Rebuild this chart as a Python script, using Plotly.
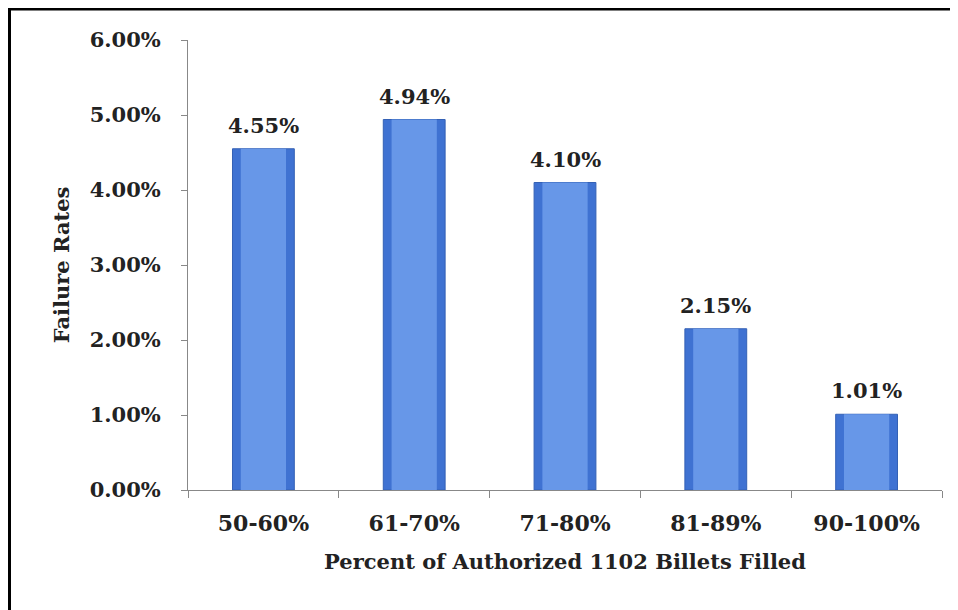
import plotly.graph_objects as go

categories = ["50-60%", "61-70%", "71-80%", "81-89%", "90-100%"]
failure_rates = [0.0455, 0.0494, 0.0410, 0.0215, 0.0101]
y_ticks = [0, 0.01, 0.02, 0.03, 0.04, 0.05, 0.06]

# page body has an 8px margin, so the figure is offset by 8px
OFF = 8
W, H = 958 - OFF, 610 - OFF
L, R, T, B = 188 - OFF, 16, 40 - OFF, 120
PW, PH = W - L - R, H - T - B

FONT = "DejaVu Serif"
TXT = "#222222"

fig = go.Figure()
# outer (darker edge) bar
fig.add_trace(go.Bar(
    x=categories, y=failure_rates, width=0.41,
    marker=dict(color="#3f72d2", line=dict(color="#3461b5", width=1)),
    hoverinfo="skip", showlegend=False,
))
# inner highlight bar (cylinder look)
fig.add_trace(go.Bar(
    x=categories, y=failure_rates, width=0.30,
    marker=dict(color="#6797e8", line=dict(width=0)),
    showlegend=False,
))

for c, v in zip(categories, failure_rates):
    fig.add_annotation(
        x=c, y=v, text=f"{v*100:.2f}%", showarrow=False,
        yanchor="bottom", yshift=9,
        font=dict(family=FONT, size=21, color=TXT, weight="bold"),
    )

def px_x(p):
    return (p - OFF - L) / PW

def px_y(p):
    return (H - B - (p - OFF)) / PH

# image frame: top and left edges
fig.add_shape(type="line", xref="paper", yref="paper",
              x0=px_x(8), x1=px_x(970), y0=px_y(9), y1=px_y(9),
              line=dict(color="black", width=3))
fig.add_shape(type="line", xref="paper", yref="paper",
              x0=px_x(9.5), x1=px_x(9.5), y0=px_y(8), y1=px_y(620),
              line=dict(color="black", width=3))

fig.update_layout(
    width=W, height=H,
    margin=dict(l=L, r=R, t=T, b=B),
    paper_bgcolor="white", plot_bgcolor="white",
    barmode="overlay",
    font=dict(family=FONT, color=TXT, weight="bold"),
    xaxis=dict(
        type="category", tickson="boundaries",
        ticks="outside", ticklen=7, tickcolor="#888888", tickwidth=1,
        ticklabelstandoff=14,
        showline=True, linecolor="#888888", linewidth=1,
        showgrid=False, zeroline=False,
        tickfont=dict(family=FONT, size=22, color=TXT, weight="bold"),
        title=dict(text="Percent of Authorized 1102 Billets Filled",
                   font=dict(family=FONT, size=21, color=TXT, weight="bold"),
                   standoff=18),
    ),
    yaxis=dict(
        range=[0, 0.06], tickvals=y_ticks, tickformat=".2%",
        ticks="outside", ticklen=6, tickcolor="#888888", tickwidth=1,
        ticklabelstandoff=16,
        showline=True, linecolor="#888888", linewidth=1,
        showgrid=False, zeroline=False,
        tickfont=dict(family=FONT, size=21, color=TXT, weight="bold"),
        title=dict(text="Failure Rates",
                   font=dict(family=FONT, size=21, color=TXT, weight="bold"),
                   standoff=14),
    ),
)

fig.write_html("out.html")
